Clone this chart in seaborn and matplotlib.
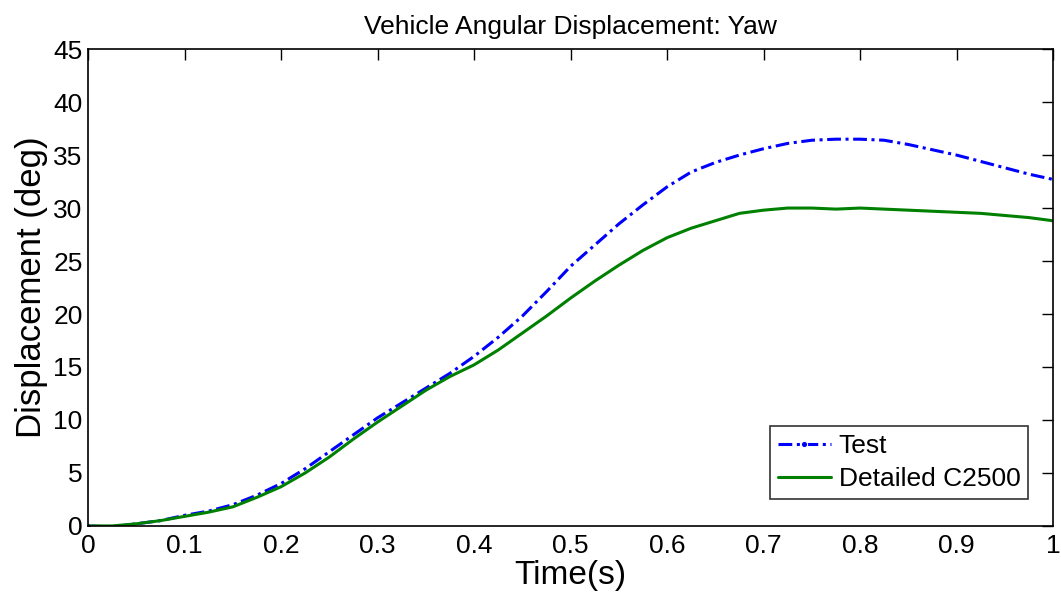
import matplotlib
matplotlib.use("Agg")
import matplotlib.pyplot as plt
import seaborn as sns
import pandas as pd

time_s = [0.0, 0.025, 0.05, 0.075, 0.1, 0.125, 0.15, 0.175, 0.2, 0.225, 0.25, 0.275, 0.3, 0.325, 0.35,
          0.375, 0.4, 0.425, 0.45, 0.475, 0.5, 0.525, 0.55, 0.575, 0.6, 0.625, 0.65, 0.675, 0.7,
          0.725, 0.75, 0.775, 0.8, 0.825, 0.85, 0.875, 0.9, 0.925, 0.95, 0.975, 1.0]
test_deg = [0.0, -0.1, 0.2, 0.5, 1.0, 1.4, 2.0, 2.9, 4.0, 5.4, 7.0, 8.6, 10.2, 11.6, 13.0,
            14.4, 16.0, 17.8, 19.8, 22.1, 24.5, 26.5, 28.5, 30.3, 32.0, 33.4, 34.3, 35.0, 35.6,
            36.1, 36.4, 36.5, 36.5, 36.4, 36.0, 35.5, 35.0, 34.4, 33.8, 33.2, 32.7]
c2500_deg = [0.0, 0.0, 0.2, 0.5, 0.9, 1.3, 1.8, 2.7, 3.7, 5.0, 6.5, 8.2, 9.8, 11.3, 12.8,
             14.1, 15.2, 16.6, 18.2, 19.8, 21.5, 23.1, 24.6, 26.0, 27.2, 28.1, 28.8, 29.5, 29.8,
             30.0, 30.0, 29.9, 30.0, 29.9, 29.8, 29.7, 29.6, 29.5, 29.3, 29.1, 28.8]
series_names = ["Test", "Detailed C2500"]

df_test = pd.DataFrame({"t": time_s, "v": test_deg})
df_c = pd.DataFrame({"t": time_s, "v": c2500_deg})

sns.set_style("white")
plt.rcParams["font.family"] = ["Liberation Sans", "DejaVu Sans"]
plt.rcParams["text.color"] = "black"
plt.rcParams["axes.labelcolor"] = "black"

fig = plt.figure(figsize=(10.61, 5.99), dpi=100)
ax = fig.add_axes([0.083, 0.122, 0.9095, 0.796])

sns.lineplot(data=df_test, x="t", y="v", color="#0000ff", linewidth=2.2,
             dashes=False, linestyle=(0, (4.5, 1.5, 1, 1.5)), marker=".", markevery=[0],
             markersize=9, label=series_names[0], ax=ax, estimator=None, sort=False)
sns.lineplot(data=df_c, x="t", y="v", color="#008000", linewidth=2.2,
             label=series_names[1], ax=ax, estimator=None, sort=False)

ax.set_xlim(0, 1)
ax.set_ylim(0, 45)
ax.set_xticks([i / 10 for i in range(11)])
ax.set_xticklabels(["0", "0.1", "0.2", "0.3", "0.4", "0.5", "0.6", "0.7", "0.8", "0.9", "1"])
ax.set_yticks(range(0, 46, 5))
ax.tick_params(direction="in", length=8, width=1, labelsize=19, top=True, right=True,
               labeltop=False, labelright=False, colors="black", labelcolor="black")
ax.tick_params(axis="x", pad=6)
ax.tick_params(axis="y", pad=4)
for s in ax.spines.values():
    s.set_visible(True)
    s.set_color("black")
    s.set_linewidth(1.2)

ax.set_xlabel("Time(s)", fontsize=24, labelpad=1, color="black")
ax.set_ylabel("Displacement (deg)", fontsize=25, labelpad=4, color="black")
ax.set_title("Vehicle Angular Displacement: Yaw", fontsize=19, pad=11, color="black")

leg = ax.legend(title=None, loc="lower right", bbox_to_anchor=(0.98, 0.045), fontsize=19,
                frameon=True, fancybox=False, edgecolor="black", borderpad=0.3,
                handlelength=2.0, handletextpad=0.3, labelspacing=0.35, borderaxespad=0.2)
leg.get_frame().set_linewidth(1.2)
for t in leg.get_texts():
    t.set_color("black")

fig.savefig("out.png", dpi=100)
